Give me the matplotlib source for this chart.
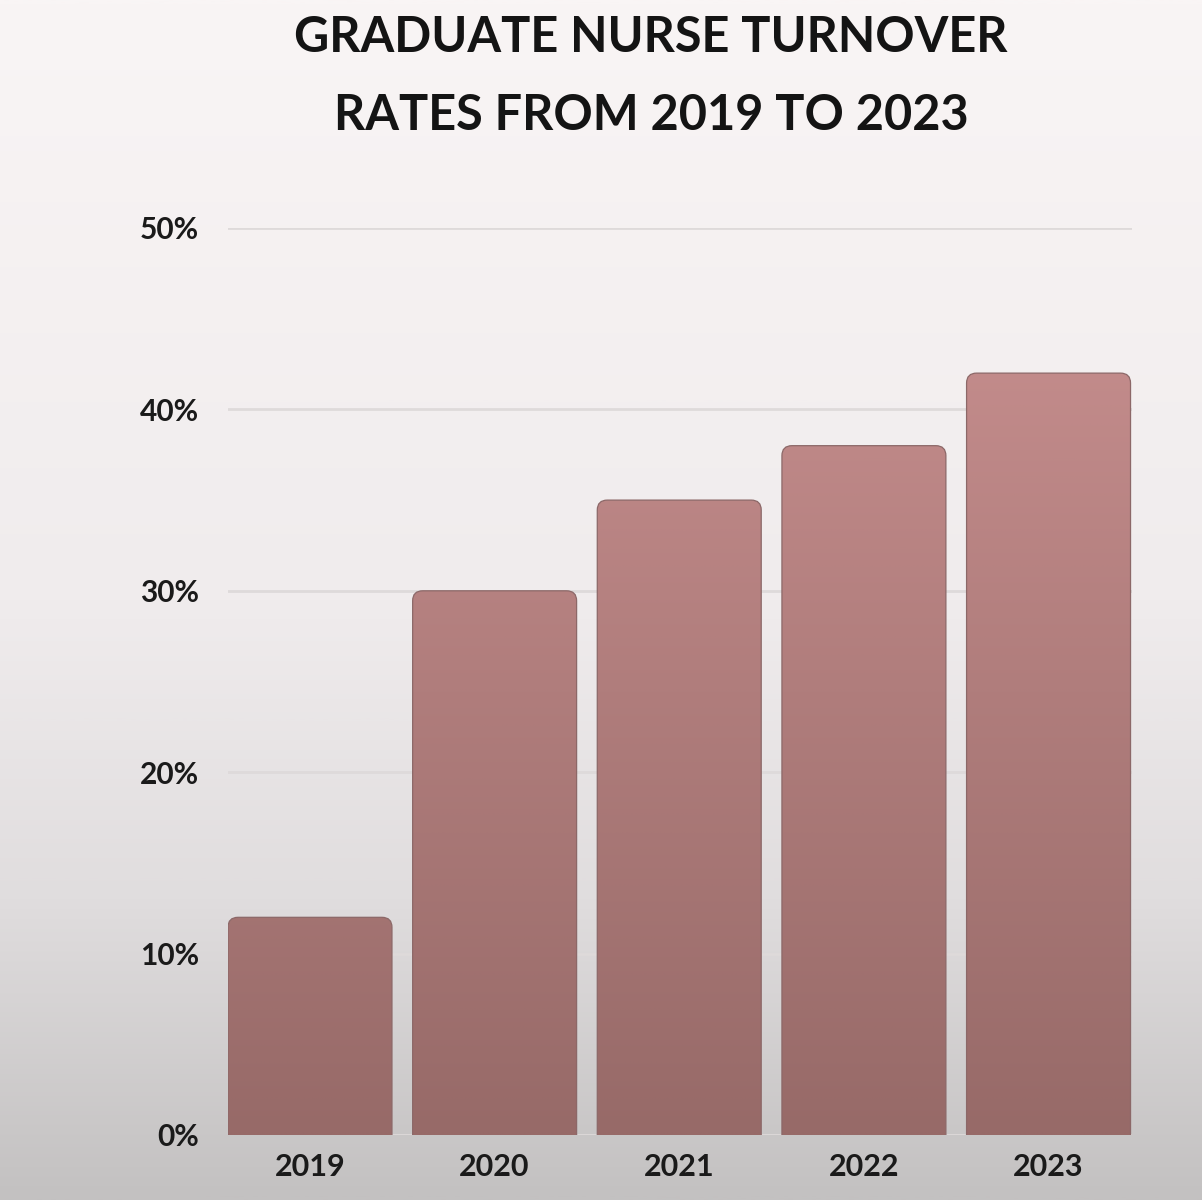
import numpy as np
import matplotlib
matplotlib.use("Agg")
import matplotlib.pyplot as plt
from matplotlib.patches import FancyBboxPatch
from matplotlib.colors import LinearSegmentedColormap

# ---- data ----
years = ["2019", "2020", "2021", "2022", "2023"]
rates = [12, 30, 35, 38, 42]
yticks = [0, 10, 20, 30, 40, 50]
ytick_labels = ["0%", "10%", "20%", "30%", "40%", "50%"]
title_lines = ["GRADUATE NURSE TURNOVER", "RATES FROM 2019 TO 2023"]

W, H, DPI = 12.02, 12.0, 100
fig = plt.figure(figsize=(W, H), dpi=DPI)

# background gradient
bg = fig.add_axes([0, 0, 1, 1], zorder=0)
bg.set_axis_off()
bg_cmap = LinearSegmentedColormap.from_list(
    "bg",
    [(0.0, (249/255, 245/255, 245/255)),
     (0.5, (240/255, 236/255, 237/255)),
     (0.75, (224/255, 221/255, 222/255)),
     (1.0, (195/255, 193/255, 193/255))])
grad = np.linspace(0, 1, 512).reshape(-1, 1)
bg.imshow(grad, aspect="auto", cmap=bg_cmap, extent=[0, 1, 0, 1], origin="upper")
bg.set_xlim(0, 1)
bg.set_ylim(0, 1)

# main axes
left, right = 228 / 1202, 1132 / 1202
bottom, top = 1 - 1135 / 1200, 1 - 228 / 1200
ax = fig.add_axes([left, bottom, right - left, top - bottom], zorder=1)
ax.patch.set_alpha(0)
x = np.arange(len(years))
bw = 0.888
ax.set_xlim(-bw / 2, 4 + (1132 - 1048.5) / 184.75)
ax.set_ylim(0, 50)

for s in ax.spines.values():
    s.set_visible(False)
ax.set_yticks(yticks)
ax.set_yticklabels(ytick_labels)
ax.set_xticks(x)
ax.set_xticklabels(years)
ax.tick_params(axis="both", length=0, colors="#1a1a1a")
ax.tick_params(axis="y", pad=21, labelsize=21.5)
ax.tick_params(axis="x", pad=13, labelsize=22)
for lab in ax.get_xticklabels() + ax.get_yticklabels():
    lab.set_fontfamily("Lato")
    lab.set_fontweight("bold")
ax.grid(axis="y", color="#dedada", linewidth=2)
ax.set_axisbelow(True)

# bar gradient colormap (by absolute y)
bar_cmap = LinearSegmentedColormap.from_list(
    "bar", [(0.0, (151/255, 106/255, 104/255)), (1.0, (202/255, 145/255, 145/255))])
bar_grad = np.linspace(0, 1, 512).reshape(-1, 1)

# aspect correction for rounded corners
fig.canvas.draw()
px_per_x = ax.bbox.width / (ax.get_xlim()[1] - ax.get_xlim()[0])
px_per_y = ax.bbox.height / (ax.get_ylim()[1] - ax.get_ylim()[0])
r_px = 10
for xi, v in zip(x, rates):
    patch = FancyBboxPatch((xi - bw / 2, -3), bw, v + 3,
                           boxstyle=f"round,pad=0,rounding_size={r_px / px_per_x}",
                           mutation_aspect=px_per_x / px_per_y,
                           facecolor="none", edgecolor="#8c6868", linewidth=0.9,
                           zorder=3)
    ax.add_patch(patch)
    im = ax.imshow(bar_grad, aspect="auto", cmap=bar_cmap,
                   extent=[xi - bw / 2, xi + bw / 2, 0, 50], origin="lower",
                   zorder=2, interpolation="bilinear")
    im.set_clip_path(patch)

ax.set_xlim(-bw / 2, 4 + (1132 - 1048.5) / 184.75)
ax.set_ylim(0, 50)

# title
fig.text(0.541, 1 - 52 / 1200, title_lines[0], ha="center", va="baseline",
         fontsize=35, fontfamily="Lato", fontweight="bold", color="#141414")
fig.text(0.542, 1 - 130 / 1200, title_lines[1], ha="center", va="baseline",
         fontsize=35, fontfamily="Lato", fontweight="bold", color="#141414")

fig.savefig("out.png", dpi=DPI)
